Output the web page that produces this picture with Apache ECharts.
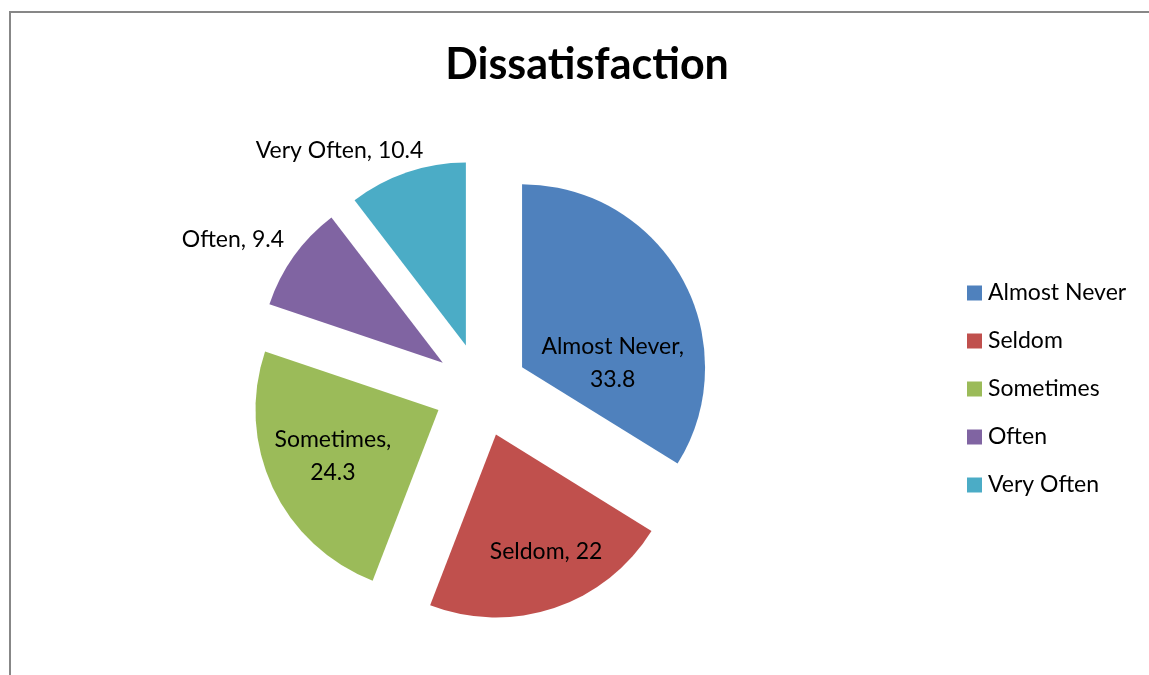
<!DOCTYPE html>
<html>
<head>
<meta charset="utf-8">
<script src="https://cdn.jsdelivr.net/npm/echarts@6/dist/echarts.min.js"></script>
<style>
  html, body { margin: 0; padding: 0; background: #fff; }
  #chart { width: 1149px; height: 675px; }
</style>
</head>
<body>
<div id="chart"></div>
<script>
// Survey responses: frequency of dissatisfaction (percent)
const categories = ['Almost Never', 'Seldom', 'Sometimes', 'Often', 'Very Often'];
const values = [33.8, 22, 24.3, 9.4, 10.4];
const colors = ['#4F81BD', '#C0504D', '#9BBB59', '#8064A2', '#4BACC6'];
// Nudges for the data labels (px) relative to the library's inside placement
const labelShift = [[8, 42], [20, 27], [-20, 6], [-133, -68], [-96, -105]];

const FONT = 'Lato, "Open Sans", sans-serif';

const chart = echarts.init(document.getElementById('chart'));
chart.setOption({
  animation: false,
  backgroundColor: '#ffffff',
  graphic: [{
    type: 'rect',
    shape: { x: 10, y: 12, width: 1300, height: 800 },
    style: { fill: 'none', stroke: '#878787', lineWidth: 2 },
    silent: true
  }],
  title: {
    text: 'Dissatisfaction',
    left: 582,
    textAlign: 'center',
    top: 39,
    textStyle: { fontFamily: FONT, fontWeight: 'bold', fontSize: 43, color: '#000' }
  },
  legend: {
    orient: 'vertical',
    left: 962,
    top: 276,
    icon: 'rect',
    itemWidth: 15,
    itemHeight: 15,
    itemGap: 24,
    selectedMode: false,
    textStyle: { fontFamily: FONT, fontSize: 23, color: '#000', lineHeight: 24, padding: [0, 0, 0, 1] },
    data: categories
  },
  series: [{
    type: 'pie',
    center: [481, 390],
    radius: 183,
    startAngle: 90,
    clockwise: true,
    selectedMode: 'multiple',
    selectedOffset: 47,
    avoidLabelOverlap: false,
    label: {
      show: true,
      position: 'inside',
      fontFamily: FONT,
      fontSize: 23,
      lineHeight: 33,
      color: '#000',
      formatter: function (p) {
        return p.dataIndex < 3 && p.dataIndex !== 1
          ? p.name + ',\n' + p.value
          : p.name + ', ' + p.value;
      }
    },
    labelLine: { show: false },
    emphasis: { disabled: true },
    labelLayout: function (p) {
      const s = labelShift[p.dataIndex];
      return { dx: s[0], dy: s[1] };
    },
    data: categories.map(function (c, i) {
      return { name: c, value: values[i], selected: true, itemStyle: { color: colors[i] } };
    })
  }]
});
</script>
</body>
</html>
